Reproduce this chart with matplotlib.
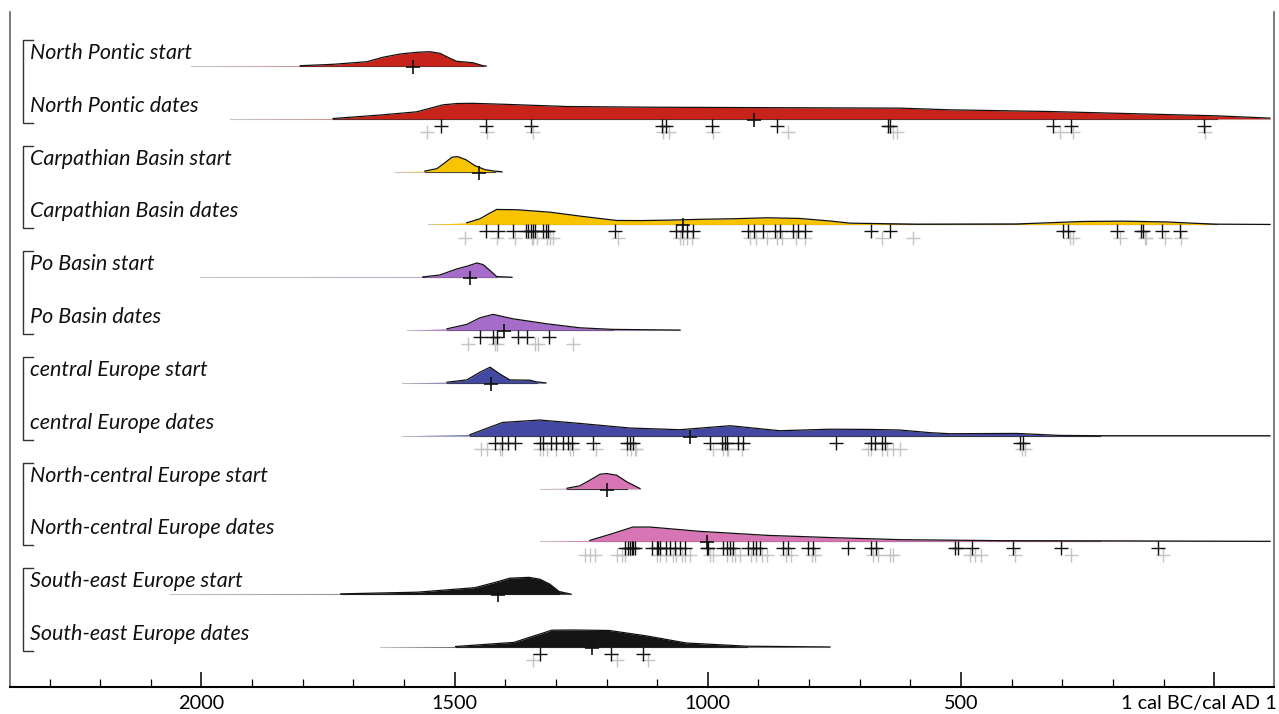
import numpy as np
import matplotlib.pyplot as plt
from matplotlib.transforms import blended_transform_factory, ScaledTranslation

plt.rcParams['font.family'] = ['Lato', 'DejaVu Sans']

# row labels and colours (top to bottom)
labels = ['North Pontic start', 'North Pontic dates',
          'Carpathian Basin start', 'Carpathian Basin dates',
          'Po Basin start', 'Po Basin dates',
          'central Europe start', 'central Europe dates',
          'North-central Europe start', 'North-central Europe dates',
          'South-east Europe start', 'South-east Europe dates']
colors = ['#c8231a', '#c8231a', '#f8c300', '#f8c300', '#a66cc9', '#a66cc9',
          '#4349a2', '#4349a2', '#d876b5', '#d876b5', '#151515', '#151515']

# probability curves: years cal BC and relative height
np_start_yr = [2020, 1805, 1740, 1673, 1642, 1608, 1575, 1549, 1529, 1509, 1496, 1464, 1444, 1438]
np_start_p = [0, 0.3, 1.7, 4.3, 8.7, 12, 13.7, 14.3, 12.7, 7.7, 4.7, 3.3, 0.3, 0]
np_dates_yr = [1944, 1740, 1642, 1575, 1523, 1495, 1464, 1400, 1278, 1100, 950, 621, 522,
               324, 127, -5, -110]
np_dates_p = [0, 0.3, 4, 7, 14, 15.3, 15.5, 14.5, 12.3, 11.6, 11.3, 10.7, 9,
              7.3, 4.7, 3, 0.7]
cb_start_yr = [1618, 1559, 1535, 1519, 1505, 1494, 1478, 1460, 1440, 1421, 1407]
cb_start_p = [0, 0.5, 3, 9, 14.5, 15, 12, 6, 2, 0.5, 0]
cb_dates_yr = [1553, 1476, 1450, 1430, 1417, 1377, 1312, 1247, 1180, 1130, 1081, 1010, 950,
               883, 818, 760, 719, 587, 390, 300, 259, 180, 93, 40, -5, -110]
cb_dates_p = [0, 1.7, 5.7, 11.5, 15, 14.7, 12.3, 8, 4, 3.9, 4.3, 5.2, 5.7,
              6.7, 6, 3.5, 1.3, 0.3, 0.5, 2.2, 3, 3.3, 2.5, 1.2, 0.3, 0]
po_start_yr = [2003, 1563, 1529, 1496, 1476, 1456, 1444, 1430, 1417, 1387]
po_start_p = [0, 0.3, 2.3, 8.3, 11, 14.3, 12.7, 6.7, 0.7, 0]
po_dates_yr = [1594, 1515, 1476, 1450, 1424, 1385, 1318, 1253, 1188, 1055]
po_dates_p = [0, 1.3, 5.7, 12.3, 15.7, 11.3, 6.3, 2.3, 0.7, 0]
ce_start_yr = [1604, 1515, 1476, 1450, 1430, 1411, 1391, 1351, 1338, 1320]
ce_start_p = [0, 0.7, 3, 10.7, 15.7, 9, 3, 2.7, 1, 0]
ce_dates_yr = [1604, 1470, 1435, 1405, 1332, 1253, 1154, 1055, 956, 858, 759, 680, 621,
               560, 522, 390, 305, 226, -110]
ce_dates_p = [0, 1, 7.7, 13.3, 15.7, 12.3, 7.7, 6, 10, 5, 6.5, 6.3, 5.7,
              3, 2, 2.3, 0.3, 0, 0]
nc_start_yr = [1332, 1278, 1253, 1233, 1213, 1200, 1180, 1160, 1134]
nc_start_p = [0, 0.3, 2.7, 8.3, 14.3, 15, 13.3, 6.7, 0]
nc_dates_yr = [1332, 1233, 1193, 1148, 1114, 1016, 883, 753, 621, 423, 226, -110]
nc_dates_p = [0, 1, 7, 14.3, 14.3, 10, 6, 3.7, 1.7, 0.7, 0.5, 0]
se_start_yr = [2062, 1725, 1573, 1460, 1422, 1391, 1353, 1332, 1312, 1294, 1270]
se_start_p = [0, 0.3, 2, 6.5, 11.5, 16, 16.8, 15, 10, 2.7, 0]
se_dates_yr = [1648, 1498, 1383, 1308, 1270, 1195, 1120, 1043, 923, 759]
se_dates_p = [0, 0.5, 4.6, 16.8, 17, 16.5, 11, 4, 0.8, 0]

# main cross for each row
centre_marks = [1583, 909, 1452, 1050, 1470, 1402, 1428, 1035, 1200, 1001, 1415, 1229]

# individual dates (black = modelled, grey = unmodelled)
np_black = [1527, 1438, 1349, 1091, 1083, 992, 864, 645, 640, 318, 283, 20]
np_grey = [1555, 1437, 1346, 1088, 1076, 990, 841, 634, 627, 305, 278, 18]
cb_black = [1438, 1414, 1384, 1359, 1355, 1350, 1346, 1342, 1325, 1320, 1315, 1184,
            1062, 1052, 1041, 1029, 920, 909, 891, 868, 858, 831, 822, 808, 677, 641,
            298, 288, 193, 144, 140, 104, 68]
cb_grey = [1480, 1417, 1381, 1348, 1345, 1338, 1318, 1312, 1305, 1177, 1055, 1049,
           1042, 1032, 917, 904, 884, 864, 854, 825, 808, 657, 595, 285, 279, 186,
           137, 134, 98, 65]
po_black = [1450, 1424, 1417, 1374, 1358, 1313]
po_grey = [1473, 1420, 1417, 1342, 1335, 1266]
ce_black = [1421, 1407, 1394, 1381, 1332, 1325, 1309, 1299, 1286, 1276, 1269, 1226,
            1160, 1154, 1147, 996, 973, 966, 963, 940, 930, 746, 677, 670, 657, 650,
            384, 377]
ce_grey = [1447, 1437, 1411, 1407, 1332, 1325, 1318, 1299, 1272, 1266, 1220, 1160,
           1151, 1144, 1141, 989, 970, 963, 960, 933, 683, 677, 657, 647, 634, 621,
           380, 374]
nc_black = [1164, 1157, 1154, 1150, 1147, 1144, 1111, 1101, 1098, 1095, 1082, 1075,
            1065, 1055, 1045, 1002, 999, 970, 963, 956, 950, 920, 910, 904, 897, 851,
            841, 802, 792, 723, 677, 667, 512, 506, 479, 397, 302, 111]
nc_grey = [1243, 1233, 1223, 1180, 1170, 1164, 1101, 1095, 1082, 1068, 1062, 1052,
           1045, 1035, 996, 989, 963, 953, 947, 937, 914, 904, 894, 884, 845, 835,
           795, 789, 674, 664, 641, 634, 483, 473, 460, 394, 282, 101]
se_black = [1331, 1191, 1129]
se_grey = [1346, 1180, 1119]

curves = [(np_start_yr, np_start_p), (np_dates_yr, np_dates_p),
          (cb_start_yr, cb_start_p), (cb_dates_yr, cb_dates_p),
          (po_start_yr, po_start_p), (po_dates_yr, po_dates_p),
          (ce_start_yr, ce_start_p), (ce_dates_yr, ce_dates_p),
          (nc_start_yr, nc_start_p), (nc_dates_yr, nc_dates_p),
          (se_start_yr, se_start_p), (se_dates_yr, se_dates_p)]
dates = [([], []), (np_black, np_grey), ([], []), (cb_black, cb_grey),
         ([], []), (po_black, po_grey), ([], []), (ce_black, ce_grey),
         ([], []), (nc_black, nc_grey), ([], []), (se_black, se_grey)]

fig, ax = plt.subplots(figsize=(12.79, 7.14), dpi=100)
fig.subplots_adjust(left=9.5 / 1279, right=1274 / 1279, bottom=27 / 714, top=702 / 714)

row_px = 52.8
hscale = 1 / row_px

for i in range(12):
    base = -i
    yr = np.array(curves[i][0], dtype=float)
    p = np.array(curves[i][1], dtype=float)
    c = colors[i]
    # faint line over the full range, darker where the curve has mass
    ax.plot([yr[0], yr[-1]], [base, base], color='#c8c8c8', lw=0.8, zorder=1)
    ax.plot([yr[1], yr[-2]], [base, base], color='#333333', lw=0.8, zorder=1)
    ax.fill_between(yr, base, base + p * hscale, color=c, lw=0, zorder=2)
    ax.plot(yr[1:], base + p[1:] * hscale, color='#111111', lw=0.9, zorder=3,
            solid_joinstyle='round')

    black, grey = dates[i]
    if grey:
        ax.plot(grey, [base - 13.5 * hscale] * len(grey), ls='none', marker='+',
                ms=9.5, mew=1.0, color='#c4c4c4', zorder=4)
    if black:
        ax.plot(black, [base - 7 * hscale] * len(black), ls='none', marker='+',
                ms=9.5, mew=1.0, color='#111111', zorder=5)
    ax.plot([centre_marks[i]], [base - 1 * hscale], ls='none', marker='+',
            ms=10, mew=1.2, color='#111111', zorder=6)

# labels and group brackets
trans = blended_transform_factory(ax.transAxes, ax.transData)
for i in range(12):
    ax.text(20.5 / 1264.5, -i + 13 * hscale, labels[i], transform=trans,
            fontsize=15.5, style='italic', va='center', ha='left', color='#111111')
bx = 13.2 / 1264.5
bx2 = 23.5 / 1264.5
for g in range(6):
    top = -2 * g + 26 * hscale
    bot = -(2 * g + 1) - 4 * hscale
    ax.plot([bx2, bx, bx, bx2], [top, top, bot, bot], transform=trans,
            color='#333333', lw=1.0, clip_on=False)

ax.set_xlim(2379, -118)
ax.set_ylim(-11 - 40 * hscale, 54 * hscale)

ax.set_xticks([2000, 1500, 1000, 500, 0])
ax.set_xticklabels(['2000', '1500', '1000', '500', '1 cal BC/cal AD 1'], fontsize=14.3)
ax.set_xticks(np.arange(2300, 0, -100), minor=True)
ax.tick_params(axis='x', which='major', direction='in', length=11, width=1.1, pad=6)
ax.tick_params(axis='x', which='minor', direction='in', length=6, width=0.9)
ax.set_yticks([])

# last tick label sits a little left of its tick so it stays inside the figure
last = ax.get_xticklabels()[-1]
last.set_transform(last.get_transform() + ScaledTranslation(-15 / 100, 0, fig.dpi_scale_trans))

ax.spines['top'].set_visible(False)
ax.spines['left'].set_color('#666666')
ax.spines['right'].set_color('#666666')
ax.spines['left'].set_linewidth(1.2)
ax.spines['right'].set_linewidth(1.2)
ax.spines['bottom'].set_linewidth(1.5)

fig.savefig('out.png', dpi=100)
